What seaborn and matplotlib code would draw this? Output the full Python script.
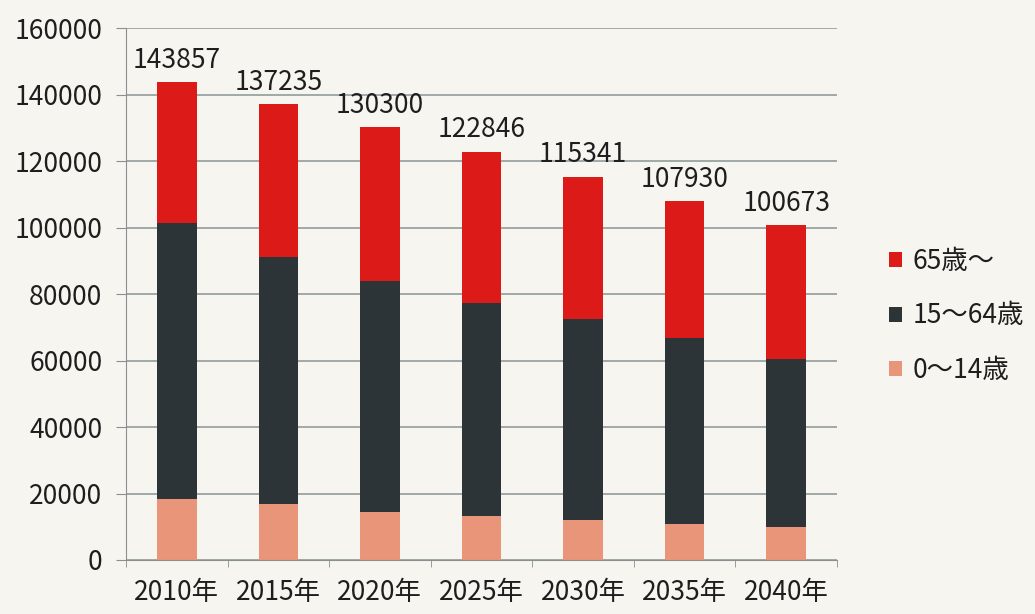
import pandas as pd
import seaborn as sns
import matplotlib.pyplot as plt
import numpy as np

years = ['2010年', '2015年', '2020年', '2025年', '2030年', '2035年', '2040年']
totals = [143857, 137235, 130300, 122846, 115341, 107930, 100673]
age_0_14 = [18300, 16800, 14400, 13100, 11900, 10900, 9900]
age_15_64 = [83200, 74300, 69500, 64200, 60500, 55900, 50700]
age_65 = [42357, 46135, 46400, 45546, 42941, 41130, 40073]

df = pd.DataFrame({'year': years, 'a0': age_0_14, 'a15': age_15_64, 'a65': age_65, 'total': totals})

sns.set_style('white')
plt.rcParams['font.family'] = ['Noto Sans CJK JP', 'DejaVu Sans']

bg = '#f6f5ef'
fig = plt.figure(figsize=(10.35, 6.14), dpi=100, facecolor=bg)
ax = fig.add_axes([0.1217, 0.088, 0.687, 0.866], facecolor=bg)

c_red = '#dc1a18'
c_dark = '#2c3438'
c_peach = '#e9957a'

sns.barplot(data=df, x='year', y='a0', color=c_peach, width=0.39, saturation=1, ax=ax,
            linewidth=0, label='0～14歳')
sns.barplot(data=df, x='year', y='a15', color=c_dark, width=0.39, saturation=1, ax=ax,
            linewidth=0, bottom=df['a0'], label='15～64歳')
sns.barplot(data=df, x='year', y='a65', color=c_red, width=0.39, saturation=1, ax=ax,
            linewidth=0, bottom=df['a0'] + df['a15'], label='65歳～')

for i, t in enumerate(df['total']):
    ax.annotate(str(t), (i, t), xytext=(0, 6), textcoords='offset points',
                ha='center', va='bottom', fontsize=19, color='#1e1e1e')

ax.set_ylim(0, 160000)
ax.set_xlim(-0.5, len(years) - 0.5)
ax.set_yticks(np.arange(0, 160001, 20000))
ax.yaxis.grid(True, color='#9aa3a3', linewidth=1.3)
ax.set_axisbelow(True)
ax.set_xlabel('')
ax.set_ylabel('')
for s in ['top', 'right']:
    ax.spines[s].set_visible(False)
ax.spines['left'].set_color('#8a8f8f')
ax.spines['bottom'].set_color('#8a8f8f')
ax.tick_params(axis='y', length=7, color='#8a8f8f', labelsize=19, pad=10, left=True,
               labelcolor='#1e1e1e')
ax.tick_params(axis='x', length=0, labelsize=19, pad=14, labelcolor='#1e1e1e')
ax.set_xticks(np.arange(-0.5, len(years)), minor=True)
ax.tick_params(axis='x', which='minor', length=5, color='#8a8f8f', bottom=True)

h, l = ax.get_legend_handles_labels()
ax.legend(h[::-1], l[::-1], loc='center left', bbox_to_anchor=(1.04, 0.459), frameon=False,
          fontsize=19, handlelength=0.5, handleheight=0.5, labelspacing=1.05, handletextpad=0.4,
          labelcolor='#1e1e1e')

fig.savefig('out.png', dpi=100, facecolor=bg)
